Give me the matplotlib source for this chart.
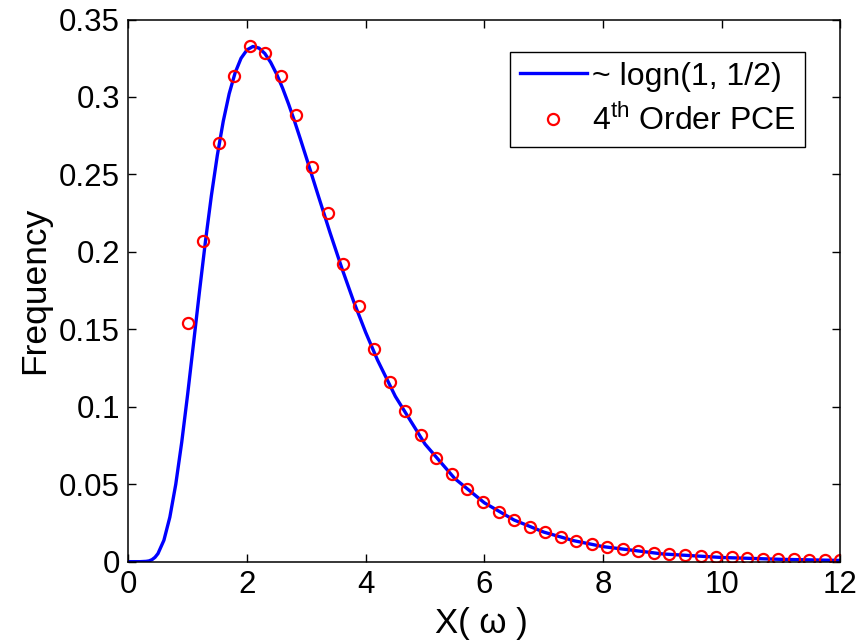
import matplotlib
matplotlib.use('Agg')
from matplotlib import pyplot as plt

plt.rcParams['font.family'] = ['Liberation Sans', 'DejaVu Sans']
plt.rcParams['mathtext.fontset'] = 'custom'
plt.rcParams['mathtext.rm'] = 'Liberation Sans'

# lognormal curve
line_x = [0, 0.2, 0.3, 0.35, 0.4, 0.45, 0.5, 0.6, 0.7, 0.8, 0.9, 1.0, 1.1, 1.2, 1.3,
          1.4, 1.5, 1.6, 1.7, 1.8, 1.9, 2.0, 2.1, 2.2, 2.3, 2.4, 2.5, 2.6, 2.7, 2.8,
          2.9, 3.0, 3.2, 3.4, 3.6, 3.8, 4.0, 4.2, 4.5, 5.0, 5.5, 6.0, 6.5, 7.0, 7.5,
          8.0, 9.0, 10.0, 11.0, 12.0]
line_y = [0, 0, 0.0002, 0.0005, 0.0013, 0.0028, 0.0052, 0.0138, 0.0287, 0.0500, 0.0770,
          0.1080, 0.1412, 0.1746, 0.2068, 0.2363, 0.2623, 0.2843, 0.3021, 0.3156, 0.3250,
          0.3304, 0.3326, 0.3316, 0.3281, 0.3223, 0.3147, 0.3057, 0.2955, 0.2845, 0.2728,
          0.2608, 0.2364, 0.2123, 0.1893, 0.1677, 0.1480, 0.1301, 0.1067, 0.0759, 0.0537,
          0.0380, 0.0269, 0.0191, 0.0136, 0.0097, 0.0050, 0.0027, 0.0015, 0.0008]

# 4th order PCE points
pce_x = [1.000, 1.262, 1.524, 1.786, 2.048, 2.310, 2.571, 2.833, 3.095, 3.357, 3.619,
         3.881, 4.143, 4.405, 4.667, 4.929, 5.190, 5.452, 5.714, 5.976, 6.238, 6.500,
         6.762, 7.024, 7.286, 7.548, 7.810, 8.071, 8.333, 8.595, 8.857, 9.119, 9.381,
         9.643, 9.905, 10.167, 10.429, 10.690, 10.952, 11.214, 11.476, 11.738, 12.000]
pce_y = [0.1542, 0.2069, 0.2700, 0.3135, 0.3327, 0.3284, 0.3135, 0.2886, 0.2551, 0.2248,
         0.1919, 0.1648, 0.1372, 0.1161, 0.0972, 0.0819, 0.0667, 0.0566, 0.0469, 0.0385,
         0.0323, 0.0269, 0.0226, 0.0194, 0.0159, 0.0132, 0.0111, 0.0095, 0.0081, 0.0069,
         0.0059, 0.0050, 0.0043, 0.0037, 0.0032, 0.0027, 0.0024, 0.0020, 0.0017, 0.0015,
         0.0013, 0.0011, 0.0009]

x_ticks = [0, 2, 4, 6, 8, 10, 12]
y_ticks = [0, 0.05, 0.1, 0.15, 0.2, 0.25, 0.3, 0.35]
y_tick_labels = ['0', '0.05', '0.1', '0.15', '0.2', '0.25', '0.3', '0.35']

fig = plt.figure(figsize=(8.57, 6.4), dpi=100)
ax = fig.add_axes([0.1497, 0.1224, 0.8310, 0.8471])

ax.plot(line_x, line_y, color='#0000ff', lw=2.4, label='~ logn(1, 1/2)')
ax.plot(pce_x, pce_y, 'o', mfc='none', mec='#ff0000', mew=1.6, ms=8,
        label=r'4$^{\rm th}$ Order PCE')

ax.set_xlim(0, 12)
ax.set_ylim(0, 0.35)
ax.set_xticks(x_ticks)
ax.set_yticks(y_ticks)
ax.set_yticklabels(y_tick_labels)
ax.tick_params(direction='in', length=6, width=1, top=True, right=True,
               labelsize=22.5, pad=6)
for s in ax.spines.values():
    s.set_linewidth(1.1)

ax.set_xlabel('X( ω )', fontsize=25)
ax.xaxis.set_label_coords(0.496, -0.083)
ax.set_ylabel('Frequency', fontsize=25.5, labelpad=6)

leg = ax.legend(loc='upper right', bbox_to_anchor=(0.950, 0.940), fontsize=23,
                fancybox=False, edgecolor='black', framealpha=1,
                handlelength=2.1, handletextpad=0.15, labelspacing=0.4,
                borderpad=0.3, borderaxespad=0)
leg.get_frame().set_linewidth(1.0)

fig.savefig('out.png', dpi=100)
